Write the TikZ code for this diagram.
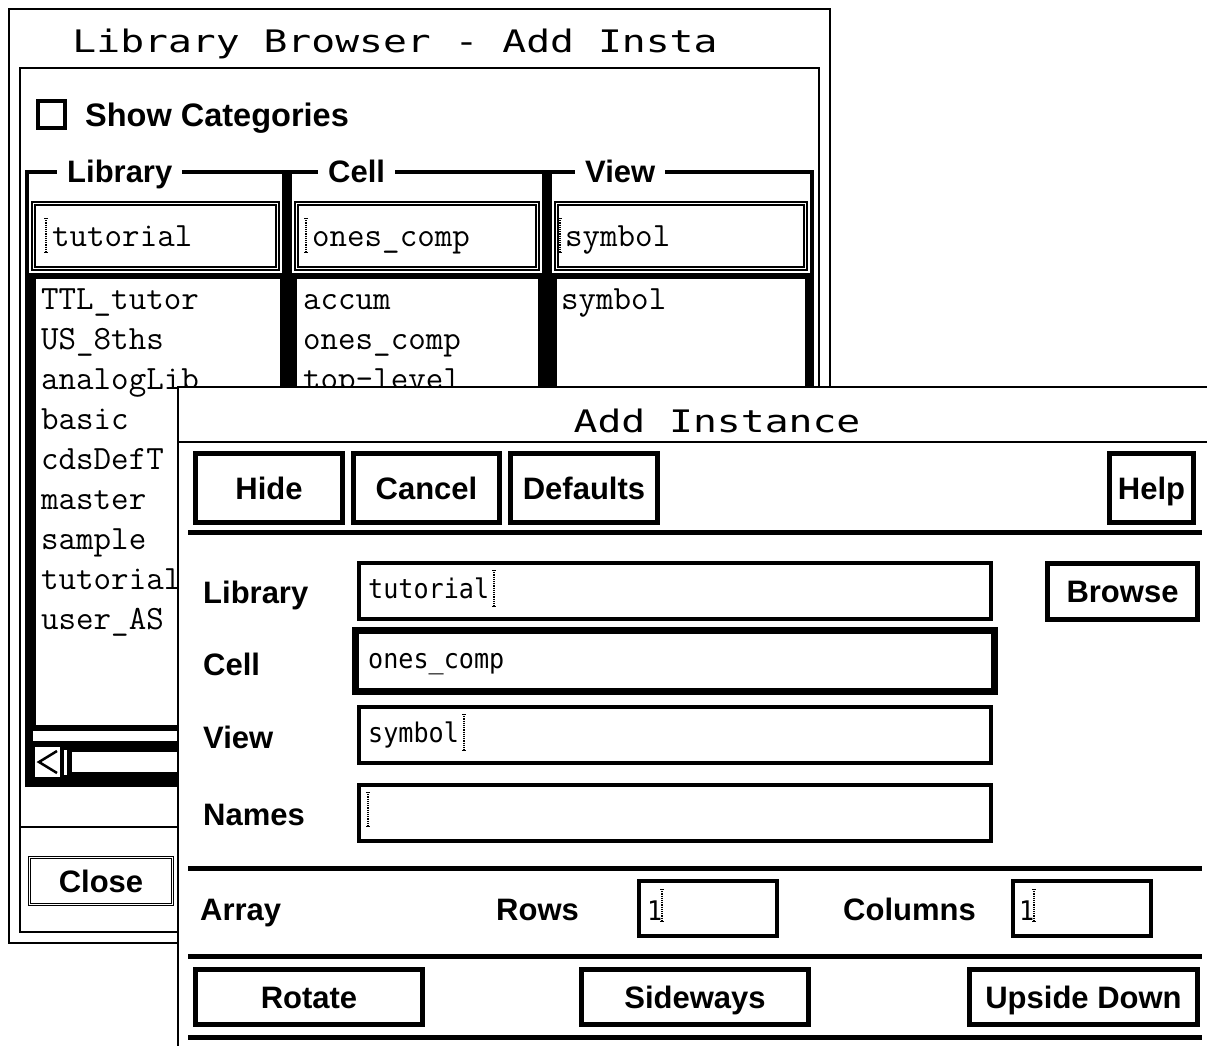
\documentclass[tikz,border=0pt]{standalone}
\usepackage{fontspec}
\usepackage{graphicx}
\newfontfamily\ttlfam{DejaVu Sans Mono}
\newfontfamily\lblfam{Liberation Sans}
\newcommand\ttlfont{\ttlfam\fontsize{31}{31}\selectfont}
\newcommand\lblfont{\lblfam\bfseries\fontsize{31}{31}\selectfont}
\newcommand\biglblfont{\lblfam\bfseries\fontsize{32.5}{32.5}\selectfont}
\newcommand\lstfont{\ttfamily\fontsize{34}{34}\selectfont}
\newcommand\fldfont{\ttlfam\fontsize{27}{27}\selectfont}
\newcommand\ttltext[1]{\scalebox{1.28}[1]{#1}}
\newcommand\fldtext[1]{\scalebox{0.93}[1]{#1}}
\newcommand\ibeam[3]{%
  \draw[densely dotted, line width=1.2pt] (#1,#2) -- (#1,#3);
  \draw[line width=0.8pt] (#1-2,#2) -- (#1+2,#2) (#1-2,#3) -- (#1+2,#3);}
\tikzset{
  lab/.style={font=\lblfont, inner sep=0pt, anchor=base west},
  btn/.style={draw, line width=5pt, font=\lblfont, inner sep=0pt, text height=22pt, text depth=0pt},
  fld/.style={draw, line width=4pt, inner sep=0pt},
  ftxt/.style={font=\fldfont, inner sep=0pt, anchor=base west},
  ltxt/.style={font=\lstfont, inner sep=0pt, anchor=base west},
  thinln/.style={line width=1.5pt},
  sepln/.style={line width=5pt},
  hdr/.style={font=\lblfont, fill=white, inner xsep=10pt, inner ysep=5pt, anchor=base west},
}
\begin{document}
\begin{tikzpicture}[x=1pt,y=-1pt]
\useasboundingbox (0,0) rectangle (1207,1046);
\fill[white] (0,0) rectangle (1207,1046);

% ---------------- background window: Library Browser
\draw[line width=2pt, fill=white] (9,9) rectangle (830,943);
\node[font=\ttlfont, inner sep=0pt, anchor=base] (bgtitle) at (395,53) {\ttltext{Library Browser - Add Insta}};
\draw[thinln] (20,68) rectangle (819,932);
\draw[line width=4pt] (38,101) rectangle (65,128);
\node[lab, font=\biglblfont] (showcat) at (85,127) {Show Categories};

% group frame and black areas
\fill (25,273) rectangle (814,787);
\fill (282,172) rectangle (292,273);
\fill (542,172) rectangle (552,273);
\draw[line width=4pt] (27,787) -- (27,172) -- (812,172) -- (812,787);
\node[hdr] (hlib) at (57,182) {Library};
\node[hdr] (hcell) at (318,182) {Cell};
\node[hdr] (hview) at (575,182) {View};

% text fields of the browser
\draw[thinln] (32,202) rectangle (279,270) (35,205) rectangle (276,267);
\draw[thinln] (295,202) rectangle (539,270) (298,205) rectangle (536,267);
\draw[thinln] (555,202) rectangle (807,270) (558,205) rectangle (804,267);
\node[ltxt] (bflib) at (52,246) {tutorial};
\node[ltxt] (bfcell) at (312,246) {ones\_comp};
\node[ltxt] (bfview) at (565,246) {symbol};
\ibeam{46}{218}{252}
\ibeam{306}{218}{252}
\ibeam{560}{218}{252}

% lists
\fill[white] (36,279) rectangle (280,725);
\fill[white] (297,279) rectangle (538,725);
\fill[white] (557,279) rectangle (805,725);
\node[ltxt] (l1) at (41,309) {TTL\_tutor};
\node[ltxt] (l2) at (41,349) {US\_8ths};
\node[ltxt] (l3) at (41,389) {analogLib};
\node[ltxt] (l4) at (41,429) {basic};
\node[ltxt] (l5) at (41,469) {cdsDefT};
\node[ltxt] (l6) at (41,509) {master};
\node[ltxt] (l7) at (41,549) {sample};
\node[ltxt] (l8) at (41,589) {tutorial};
\node[ltxt] (l9) at (41,629) {user\_AS};
\node[ltxt] (c1) at (303,309) {accum};
\node[ltxt] (c2) at (303,349) {ones\_comp};
\node[ltxt] (c3) at (303,389) {top-level};
\node[ltxt] (v1) at (561,309) {symbol};

% scrollbar
\fill[white] (33,731) rectangle (814,741);
\fill[white] (35,747) rectangle (60,777);
\draw[line width=2.5pt] (57,751) -- (39,762) -- (57,773);
\draw[white, line width=3pt] (65,750) -- (65,775);
\fill[white] (72,752) rectangle (814,772);

% lower part
\draw[line width=2.5pt] (20,827) -- (819,827);
\node[draw, double, double distance=1.5pt, line width=1.2pt, minimum width=143pt, minimum height=47pt, font=\lblfont, inner sep=0pt] (closebtn) at (101,881) {Close};

% ---------------- front window: Add Instance
\fill[white] (178,387) rectangle (1207,1046);
\draw[line width=2pt] (1208,387) -- (178,387) -- (178,1047);
\node[font=\ttlfont, inner sep=0pt, anchor=base] (fttl) at (717,432) {\ttltext{Add Instance}};
\draw[line width=2pt] (178,442) -- (1207,442);

% top buttons
\node[btn, minimum width=147pt, minimum height=69pt] (hide) at (269,488) {Hide};
\node[btn, minimum width=146pt, minimum height=69pt] (cancel) at (426.5,488) {Cancel};
\node[btn, minimum width=147pt, minimum height=69pt] (defaults) at (584,488) {Defaults};
\node[btn, minimum width=84pt, minimum height=69pt] (help) at (1151.5,488) {Help};
\draw[sepln] (188,532) -- (1202,532);

% form rows
\node[lab] (llib) at (203,603) {Library};
\node[lab] (lcell) at (203,675) {Cell};
\node[lab] (lview) at (203,748) {View};
\node[lab] (lnames) at (203,825) {Names};

\node[fld, minimum width=632pt, minimum height=56pt] (flib) at (675,591) {};
\node[fld, line width=7pt, minimum width=639pt, minimum height=61pt] (fcell) at (675,661) {};
\node[fld, minimum width=632pt, minimum height=56pt] (fview) at (675,735) {};
\node[fld, minimum width=632pt, minimum height=56pt] (fnames) at (675,813) {};
\node[btn, minimum width=150pt, minimum height=56pt] (browse) at (1122.5,591.5) {Browse};

\node[ftxt] (tlib) at (368,598) {\fldtext{tutorial}};
\ibeam{494}{570}{606}
\node[ftxt] (tcell) at (368,668) {\fldtext{ones\_comp}};
\node[ftxt] (tview) at (368,742) {\fldtext{symbol}};
\ibeam{464}{714}{750}
\ibeam{368}{792}{826}

\draw[sepln] (188,868) -- (1202,868);

% array row
\node[lab] (larr) at (200,920) {Array};
\node[lab] (lrows) at (496,920) {Rows};
\node[lab] (lcols) at (843,920) {Columns};
\node[fld, minimum width=138pt, minimum height=55pt] (frows) at (708,908.5) {};
\node[fld, minimum width=138pt, minimum height=55pt] (fcols) at (1082,908.5) {};
\node[ftxt] (trows) at (647,920) {\fldtext{1}};
\ibeam{662}{889}{921}
\node[ftxt] (tcols) at (1019,920) {\fldtext{1}};
\ibeam{1034}{889}{921}

\draw[sepln] (188,956) -- (1202,956);

% bottom buttons
\node[btn, minimum width=227pt, minimum height=55pt] (rotate) at (309,997) {Rotate};
\node[btn, minimum width=227pt, minimum height=55pt] (sideways) at (695,997) {Sideways};
\node[btn, minimum width=228pt, minimum height=55pt] (upside) at (1083.5,997) {Upside Down};

\draw[sepln] (188,1037) -- (1202,1037);
\end{tikzpicture}
\end{document}
